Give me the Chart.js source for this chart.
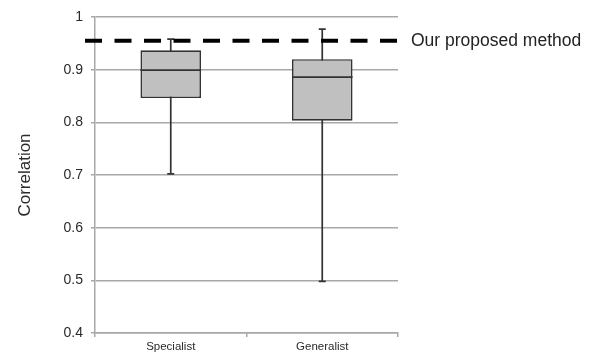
<!DOCTYPE html>
<html>
<head>
<meta charset="utf-8">
<script src="https://cdn.jsdelivr.net/npm/chart.js@4/dist/chart.umd.min.js"></script>
<style>
  html, body { margin: 0; padding: 0; background: #fff; }
  #wrap { width: 592px; height: 352px; }
</style>
</head>
<body>
<div id="wrap"><canvas id="chart" width="592" height="352"></canvas></div>
<script>
// Box-plot summaries of correlation per model type
const categories   = ['Specialist', 'Generalist'];
const whiskerLow   = [0.702, 0.498];
const quartileLow  = [0.846, 0.803];
const medians      = [0.899, 0.886];
const quartileHigh = [0.937, 0.920];
const whiskerHigh  = [0.958, 0.977];

// Reference level drawn as a dashed line
const referenceValue = 0.955;
const referenceLabel = 'Our proposed method';

// Y axis
const yMin = 0.4, yMax = 1, yStep = 0.1;
const yTickLabels = ['0.4', '0.5', '0.6', '0.7', '0.8', '0.9', '1'];
const yTitle = 'Correlation';

const FONT = '"Liberation Sans", Arial, Helvetica, sans-serif';
const INK = '#2a2a2a';
const GRID = '#a8a8a8';

// Whiskers behind the boxes, medians on top, reference line over everything
const boxPlotParts = {
  id: 'boxPlotParts',
  beforeDatasetsDraw(chart) {
    const ctx = chart.ctx, x = chart.scales.x, y = chart.scales.y;
    ctx.save();
    ctx.strokeStyle = '#333';
    ctx.lineWidth = 1.7;
    categories.forEach((c, i) => {
      const cx = x.getPixelForValue(i);
      const yl = y.getPixelForValue(whiskerLow[i]);
      const yh = y.getPixelForValue(whiskerHigh[i]);
      ctx.beginPath();
      ctx.moveTo(cx, yl); ctx.lineTo(cx, yh);
      ctx.moveTo(cx - 3.5, yl); ctx.lineTo(cx + 3.5, yl);
      ctx.moveTo(cx - 3.5, yh); ctx.lineTo(cx + 3.5, yh);
      ctx.stroke();
    });
    ctx.restore();
  },
  afterDatasetsDraw(chart) {
    const ctx = chart.ctx, y = chart.scales.y;
    const meta = chart.getDatasetMeta(0);
    ctx.save();
    ctx.strokeStyle = '#333';
    ctx.lineWidth = 1.7;
    meta.data.forEach((bar, i) => {
      const half = bar.width / 2;
      const ym = y.getPixelForValue(medians[i]);
      ctx.beginPath();
      ctx.moveTo(bar.x - half, ym); ctx.lineTo(bar.x + half, ym);
      ctx.stroke();
    });
    const area = chart.chartArea;
    const yr = y.getPixelForValue(referenceValue);
    ctx.strokeStyle = '#000';
    ctx.lineWidth = 4;
    ctx.setLineDash([17, 12.5]);
    ctx.beginPath();
    ctx.moveTo(area.left - 10, yr); ctx.lineTo(area.right, yr);
    ctx.stroke();
    ctx.setLineDash([]);
    ctx.fillStyle = '#222';
    ctx.font = '17.5px ' + FONT;
    ctx.textBaseline = 'middle';
    ctx.textAlign = 'left';
    ctx.fillText(referenceLabel, area.right + 13, yr);
    ctx.restore();
  }
};

new Chart(document.getElementById('chart'), {
  type: 'bar',
  data: {
    labels: categories,
    datasets: [{
      data: categories.map((c, i) => [quartileLow[i], quartileHigh[i]]),
      backgroundColor: '#c0c0c0',
      borderColor: '#333',
      borderWidth: 1.7,
      borderSkipped: false,
      categoryPercentage: 1,
      barPercentage: 0.4
    }]
  },
  options: {
    responsive: false,
    animation: false,
    devicePixelRatio: 1,
    layout: { padding: { left: 0, right: 194, top: 17, bottom: 0 } },
    plugins: { legend: { display: false }, tooltip: { enabled: false } },
    scales: {
      x: {
        offset: true,
        grid: { offset: true, drawOnChartArea: false, color: GRID, lineWidth: 1.5, tickLength: 4 },
        border: { color: GRID, width: 1.5 },
        ticks: { color: INK, font: { family: FONT, size: 11.5 }, padding: 3 },
        afterFit(scale) { scale.height = 19; }
      },
      y: {
        min: yMin, max: yMax,
        grid: { color: GRID, lineWidth: 1.5, tickLength: 4 },
        border: { color: GRID, width: 1.5 },
        ticks: {
          stepSize: yStep,
          color: INK,
          font: { family: FONT, size: 14 },
          padding: 8,
          callback: (v, i) => yTickLabels[i]
        },
        title: {
          display: true,
          text: yTitle,
          color: INK,
          font: { family: FONT, size: 17 },
          padding: { top: 15, bottom: 0 }
        },
        afterFit(scale) { scale.width = 95; }
      }
    }
  },
  plugins: [boxPlotParts]
});
</script>
</body>
</html>
